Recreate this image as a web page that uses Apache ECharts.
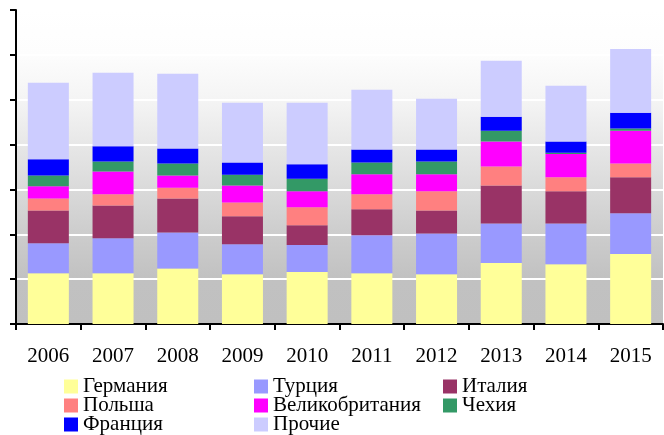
<!DOCTYPE html>
<html>
<head>
<meta charset="utf-8">
<script src="https://cdn.jsdelivr.net/npm/echarts@6/dist/echarts.min.js"></script>
<style>
  html, body { margin: 0; padding: 0; background: #fff; }
  #chart { width: 664px; height: 435px; }
</style>
</head>
<body>
<div id="chart"></div>
<script>
// годы
var years = ['2006', '2007', '2008', '2009', '2010', '2011', '2012', '2013', '2014', '2015'];

// значения по странам (оценка по картинке)
var germany = [11.3, 11.3, 12.4, 11.1, 11.6, 11.3, 11.1, 13.6, 13.3, 15.6];
var turkey  = [6.7, 7.8, 8.0, 6.7, 6.0, 8.5, 9.1, 8.8, 9.1, 9.1];
var italy   = [7.3, 7.3, 7.6, 6.2, 4.4, 5.8, 5.1, 8.5, 7.2, 8.0];
var poland  = [2.7, 2.5, 2.4, 3.1, 4.0, 3.3, 4.3, 4.2, 3.1, 3.1];
var uk      = [2.7, 5.1, 2.7, 3.8, 3.6, 4.5, 3.8, 5.6, 5.2, 7.3];
var czech   = [2.4, 2.2, 2.7, 2.4, 2.8, 2.6, 2.8, 2.4, 0.3, 0.5];
var france  = [3.6, 3.4, 3.3, 2.7, 3.2, 2.9, 2.7, 3.1, 2.5, 3.5];
var others  = [17.1, 16.4, 16.7, 13.3, 13.7, 13.3, 11.3, 12.5, 12.4, 14.2];

var names = ['Германия', 'Турция', 'Италия', 'Польша', 'Великобритания', 'Чехия', 'Франция', 'Прочие'];
var colors = ['#ffff99', '#9999ff', '#993366', '#ff8080', '#ff00ff', '#339966', '#0000ff', '#ccccff'];
var values = [germany, turkey, italy, poland, uk, czech, france, others];

var serif = '"Liberation Serif", "Times New Roman", serif';

// легенда: три колонки
function makeLegend(left, data) {
  return {
    orient: 'vertical',
    left: left,
    top: 376,
    height: 80,
    padding: 0,
    itemGap: -2,
    itemWidth: 14,
    itemHeight: 14,
    icon: 'rect',
    selectedMode: false,
    data: data,
    textStyle: { fontFamily: serif, fontSize: 21, color: '#000', lineHeight: 19 }
  };
}

var chart = echarts.init(document.getElementById('chart'));
chart.setOption({
  animation: false,
  color: colors,
  grid: {
    left: 16, right: 1, top: 10, bottom: 111,
    show: true,
    borderWidth: 0,
    backgroundColor: new echarts.graphic.LinearGradient(0, 0, 0, 1, [
      { offset: 0, color: '#ffffff' },
      { offset: 0.14, color: '#fdfdfd' },
      { offset: 0.29, color: '#f4f4f4' },
      { offset: 0.43, color: '#e7e7e7' },
      { offset: 0.57, color: '#dadada' },
      { offset: 0.71, color: '#cdcdcd' },
      { offset: 0.86, color: '#c1c1c1' },
      { offset: 1, color: '#c0c0c0' }
    ])
  },
  legend: [
    makeLegend(64, ['Германия', 'Польша', 'Франция']),
    makeLegend(254, ['Турция', 'Великобритания', 'Прочие']),
    makeLegend(443, ['Италия', 'Чехия'])
  ],
  xAxis: {
    type: 'category',
    data: years,
    axisLine: { lineStyle: { color: '#000', width: 2 } },
    axisTick: { show: true, length: 6, lineStyle: { color: '#000', width: 2 } },
    axisLabel: { fontFamily: serif, fontSize: 21, color: '#000', margin: 22 }
  },
  yAxis: {
    type: 'value',
    min: 0, max: 70, interval: 10,
    axisLine: { show: true, lineStyle: { color: '#000', width: 2 } },
    axisTick: { show: true, length: 6, lineStyle: { color: '#000', width: 2 } },
    axisLabel: { show: false },
    splitLine: { show: true, lineStyle: { color: '#ffffff', width: 2 } }
  },
  series: names.map(function (n, i) {
    return {
      name: n,
      type: 'bar',
      stack: 'total',
      barWidth: 41,
      data: values[i]
    };
  })
});
</script>
</body>
</html>
